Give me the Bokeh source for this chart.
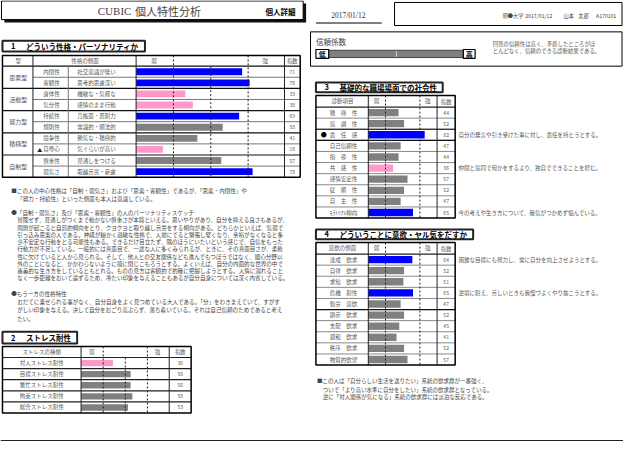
from bokeh.plotting import figure
from bokeh.models import Range1d
from bokeh.core.properties import value
from bokeh.embed import file_html
from bokeh.resources import INLINE

# ---------------- data ----------------
title_main = "個人特性分析"
title_brand = "CUBIC"
report_tag = "個人詳細"
report_date = "2017/01/12"
info_parts = ["明●大学", "2017/01/12", "山本", "太郎", "A170101"]

rel_title = "信頼係数"
rel_low, rel_high = "低", "高"
rel_text = ["回答の信頼性は高く、矛盾したところがほ", "とんどなく、信頼のできる診断結果である。"]

s1_title = ["1", "どういう性格・パーソナリティか"]
s1_header = ["型", "性格の側面", "弱", "強", "指数"]
s1_groups = ["思索型", "活動型", "努力型", "積極型", "自制型"]
s1_traits = ["内閉性", "客観性", "身体性", "気分性", "持続性", "規則性", "競争性", "自尊心", "慎重性", "弱気さ"]
s1_marks = ["", "", "", "", "", "", "", "▲", "", ""]
s1_desc = ["社交意識が低い", "思考的思慮深い", "機敏な・気軽な", "感情のまま行動", "几帳面・忍耐力",
           "常識的・順法的", "勝気な・積極的", "気ぐらいが高い", "見通しをつける", "取越苦労・憂慮"]
s1_values = [71, 76, 33, 38, 69, 58, 41, 18, 57, 78]

s1_note = ["■この人の中心性格は「自制・弱気さ」および「思索・客観性」であるが、「思索・内閉性」や",
           "「努力・持続性」といった側面も本人は意識している。"]
s1_sketch_head = "●「自制・弱気さ」及び「思索・客観性」の人のパーソナリティスケッチ"
s1_sketch = [
    "冒険せず、見通しがつくまで動かない慎重さが本質といえる。思いやりがあり、自分を抑える良さもあるが、",
    "問題が起こると自罰的傾向をとり、クヨクヨと取り越し苦労をする傾向がある。どちらかといえば、気弱で",
    "引っ込み思案の人である。神経が細かく過敏な性格で、人前にでると緊張し堅くなり、余裕がなくなると多",
    "少不安定な行動をとる可能性もある。できるだけ目立たず、隅のほうにいたいという感じで、自信をもった",
    "行動力が不足している。一般的には真面目で、一途な人に多くみられるが、ときに、その真面目さが、柔軟",
    "性に欠けていると人から見られる。そして、他人との交友関係なども進んでもつほうではなく、関心分野以",
    "外のことになると、かかわらないように殻に閉じこもろうとする。よくいえば、自分の内面的な世界の中で",
    "審美的な生き方をしているともとれる。ものの見方は客観的で的確に把握しようとする。人情に溺れること",
    "なく一歩距離をおいて論ずるため、冷たい印象を与えることもあるが自分自身については深く内省している。",
]
s1_other_head = "●もう一方の性格特性"
s1_other = [
    "おだてに乗せられる事がなく、自分自身をよく見つめている大人である。「分」をわきまえていて、すがす",
    "がしい印象を与える。決して自分をおごり高ぶらず、落ち着いている。それは自己信頼のためであると考え",
    "たい。",
]

s2_title = ["2", "ストレス耐性"]
s2_header = ["ストレスの種類", "弱", "強", "指数"]
s2_items = ["対人ストレス耐性", "目標ストレス耐性", "繁忙ストレス耐性", "拘束ストレス耐性", "総合ストレス耐性"]
s2_values = [36, 56, 56, 58, 53]

s3_title = ["3", "基礎的な職場場面での社会性"]
s3_header = ["診断項目", "弱", "強", "指数"]
s3_items = ["積　極　性", "協　調　性", "責　任　感", "自己信頼性", "指　導　性",
            "共　感　性", "感情安定性", "従　順　性", "自　主　性", "ﾓﾗﾄﾘｱﾑ傾向"]
s3_marks = ["", "", "●", "", "", "", "", "", "", ""]
s3_values = [44, 52, 82, 47, 44, 36, 57, 52, 47, 65]
s3_comments = ["", "", "自分の発言や引き受けた事に対し、責任を持とうとする。", "", "",
               "仲間と協同で何かをするより、独自でできることを好む。", "", "", "",
               "今の考えや生き方について、確信がつかめず悩んでいる。"]

s4_title = ["4", "どういうことに意欲・ヤル気をだすか"]
s4_header = ["意欲の側面", "弱", "強", "指数"]
s4_items = ["達成　欲求", "自律　欲求", "求知　欲求", "危機　耐性", "勤労　意欲",
            "顕示　欲求", "支配　欲求", "親和　欲求", "秩序　欲求", "物質的欲望"]
s4_values = [64, 52, 51, 65, 47, 52, 45, 41, 52, 57]
s4_comments = ["困難な目標にも努力し、常に自分を向上させようとする。", "", "",
               "逆境に耐え、苦しいときも我慢づよくやり抜こうとする。", "", "", "", "", "", ""]
s4_note = ["■この人は「自分らしい生活を送りたい」系統の欲求群が一番強く、",
           "ついで「より高い水準に自分をしたい」系統の欲求群となっている。",
           "逆に「対人関係が気になる」系統の欲求群には淡泊な反応である。"]

scale_ticks = [25, 50, 75]

# ---------------- layout / style ----------------
JP = "Noto Sans CJK JP"
SERIF = "Liberation Serif"
X0, X1 = 4, 638
Y0, Y1 = 3, 453
W, H = 623, 441
BLUE, PINK, GRAY = "#0000FF", "#FF99CC", "#808080"
TXT = "#555555"


def bar_color(v):
    return BLUE if v >= 60 else (PINK if v <= 40 else GRAY)


p = figure(width=W, height=H, x_range=Range1d(X0, X1), y_range=Range1d(Y1, Y0),
           output_backend="svg", toolbar_location=None, min_border=0,
           x_axis_location=None, y_axis_location=None)
p.grid.visible = False
p.outline_line_color = None
p.background_fill_color = "white"
p.border_fill_color = "white"

# chart scales: origin (page x) and px per value unit
scales = {"s1": (142.0, 1.52), "s2": (86.0, 0.9), "s34": (378.3, 0.7)}
p.extra_x_ranges = {k: Range1d((X0 - o) / s, (X1 - o) / s) for k, (o, s) in scales.items()}


def txt(xs, ys, texts, size, align="left", color=TXT, bold=False, font=JP, rng="default"):
    p.text(x=xs, y=ys, text=texts, text_font=value(font), text_font_size=value(f"{size}px"),
           text_align=align, text_baseline="middle", text_color=color,
           text_font_style="bold" if bold else "normal", x_range_name=rng)


def segs(x0, y0, x1, y1, color="#000000", width=1.0, dash="solid", rng="default"):
    p.segment(x0=x0, y0=y0, x1=x1, y1=y1, line_color=color, line_width=width,
              line_dash=dash, x_range_name=rng)


def box(l, r, t, b, lw=1.0, lc="#000000", fill="white"):
    p.quad(left=[l], right=[r], top=[t], bottom=[b], fill_color=fill, line_color=lc, line_width=lw)


def title_box(l, r, t, b, parts):
    box(l, r, t, b, lw=2, lc="#222222")
    yc = (t + b) / 2
    txt([l + 11], [yc], [parts[0]], 7.5, align="center", color="#000000", bold=True)
    txt([l + 24], [yc], [parts[1]], 7.5, color="#000000", bold=True)


# ---------- header ----------
p.quad(left=[8], right=[315], top=[6], bottom=[25.5], fill_color="#111111", line_color=None)
box(5, 312, 3.5, 22.5, lw=1)
txt([103], [13.5], [title_brand], 11, color="#444444", font=SERIF)
txt([141], [13.5], [title_main], 11, color="#444444")
txt([289], [14], [report_tag], 7.5, align="center", color="#000000", bold=True)

txt([358], [18], [report_date], 7.5, align="center", color="#333333", font=SERIF)
segs([325], [26], [392], [26], color="#555555", width=1.5)
box(405, 636.5, 5, 28.5, lw=1)
txt([515, 538, 577, 592, 610], [18] * 5, info_parts, 5.2, color="#444444")

# ---------- reliability ----------
box(319.5, 636.5, 35, 70, lw=1)
txt([325], [45], [rel_title], 7.5, color="#444444")
p.quad(left=[338], right=[475], top=[53.8], bottom=[61.2], fill_color=GRAY, line_color="#444444", line_width=1)
segs([407], [54.5], [407], [60.5], color="#d0d0d0", width=1)
box(325, 338, 53, 62, lw=1.2)
box(475, 487, 53, 62, lw=1.2)
txt([331.5, 481], [57.5, 57.5], [rel_low, rel_high], 7, align="center", color="#000000", bold=True)
txt([505, 505], [47, 55], rel_text, 5.4)

# ---------- section 1 ----------
title_box(6, 151, 44, 55, s1_title)
L1, R1, TOP1, HB1, RH = 6, 309, 59, 70, 11.33
c_type, c_name, c_chart, c_idx = 37, 73, 142, 293
rows1 = [HB1 + RH * (i + 0.5) for i in range(len(s1_values))]
BOT1 = HB1 + RH * len(s1_values)
p.hbar(y=rows1, left=0, right=s1_values, height=7,
       fill_color=[bar_color(v) for v in s1_values], line_color=None, x_range_name="s1")
inner = [HB1 + RH * i for i in range(1, 10) if i % 2 == 1]
group = [HB1 + RH * i for i in range(1, 10) if i % 2 == 0]
segs([c_type] * len(inner), inner, [R1] * len(inner), inner, color="#777777", width=1)
segs([L1] * len(group), group, [R1] * len(group), group, color="#111111", width=1.2)
segs([L1], [HB1], [R1], [HB1], color="#111111", width=1.2)
segs([c_type, c_chart, c_idx], [TOP1] * 3, [c_type, c_chart, c_idx], [BOT1] * 3, color="#222222", width=1)
segs([c_name], [HB1], [c_name], [BOT1], color="#777777", width=1)
segs([scale_ticks[0], scale_ticks[2]], [TOP1] * 2, [scale_ticks[0], scale_ticks[2]], [BOT1] * 2,
     color="#222222", width=1, dash="2 2", rng="s1")
segs([scale_ticks[1]], [HB1], [scale_ticks[1]], [BOT1], color="#222222", width=1, dash="2 2", rng="s1")
box(L1, R1, TOP1, BOT1, lw=1.5, fill=None)
hy = (TOP1 + HB1) / 2
txt([22, 90], [hy, hy], s1_header[:2], 5.5, align="center")
txt([12, 86.5], [hy, hy], s1_header[2:4], 5.5, align="center", rng="s1")
txt([301], [hy], [s1_header[4]], 5.2, align="center")
gy = [HB1 + RH * (2 * g + 1) for g in range(len(s1_groups))]
txt([22] * len(gy), gy, s1_groups, 6, align="center")
txt([56] * 10, rows1, s1_traits, 5.5, align="center")
mk = [i for i, m in enumerate(s1_marks) if m]
txt([44] * len(mk), [rows1[i] for i in mk], [s1_marks[i] for i in mk], 5, align="center", color="#222222")
txt([82] * 10, rows1, s1_desc, 5.5)
txt([301] * 10, rows1, [str(v) for v in s1_values], 5, align="center")

txt([15, 21], [197, 205.5], s1_note, 5.55, color="#444444")
txt([15], [219.5], [s1_sketch_head], 5.55, color="#444444")
txt([21] * len(s1_sketch), [227.3 + 7.4 * i for i in range(len(s1_sketch))], s1_sketch, 5.55, color="#444444")
txt([15], [302], [s1_other_head], 5.55, color="#444444")
txt([21] * len(s1_other), [310.5 + 8.5 * i for i in range(len(s1_other))], s1_other, 5.55, color="#444444")

# ---------- section 2 ----------
title_box(6, 82, 341, 353, s2_title)
L2, R2, TOP2, HB2 = 6, 198, 356, 367.3
c2_chart, c2_idx = 86, 175.7
rows2 = [HB2 + RH * (i + 0.5) for i in range(len(s2_values))]
BOT2 = HB2 + RH * len(s2_values)
p.hbar(y=rows2, left=0, right=s2_values, height=6.5,
       fill_color=[bar_color(v) for v in s2_values], line_color=None, x_range_name="s2")
hl2 = [HB2 + RH * i for i in range(0, len(s2_values))]
segs([L2] * len(hl2), hl2, [R2] * len(hl2), hl2, color="#222222", width=1.2)
segs([c2_chart, c2_idx], [TOP2] * 2, [c2_chart, c2_idx], [BOT2] * 2, color="#222222", width=1)
segs([scale_ticks[0], scale_ticks[2]], [TOP2] * 2, [scale_ticks[0], scale_ticks[2]], [BOT2] * 2,
     color="#222222", width=1, dash="2 2", rng="s2")
segs([scale_ticks[1]], [HB2], [scale_ticks[1]], [BOT2], color="#222222", width=1, dash="2 2", rng="s2")
box(L2, R2, TOP2, BOT2, lw=1.5, fill=None)
hy2 = (TOP2 + HB2) / 2
txt([46], [hy2], [s2_header[0]], 5.5, align="center")
txt([12, 86.5], [hy2, hy2], s2_header[1:3], 5.5, align="center", rng="s2")
txt([187], [hy2], [s2_header[3]], 5.2, align="center")
txt([46] * len(s2_items), rows2, s2_items, 5.5, align="center")
txt([187] * len(s2_values), rows2, [str(v) for v in s2_values], 5, align="center")


# ---------- sections 3 & 4 ----------
def social_table(top, title_r, parts, header, items, marks, vals, comments, black_lines):
    title_box(325, title_r, top - 13.3, top - 3.3, parts)
    L, R, HB = 325, 466.7, top + 11.7
    cc, ci = 378.3, 448.3
    rows = [HB + RH * (i + 0.5) for i in range(len(vals))]
    BOT = HB + RH * len(vals)
    p.hbar(y=rows, left=0, right=vals, height=7.5,
           fill_color=[bar_color(v) for v in vals], line_color=None, x_range_name="s34")
    hl = [HB + RH * i for i in range(1, len(vals))]
    segs([L] * len(hl), hl, [R] * len(hl), hl, color="#888888", width=1)
    bl = [HB + RH * i for i in black_lines]
    segs([L] * len(bl), bl, [R] * len(bl), bl, color="#111111", width=1.2)
    segs([L], [HB], [R], [HB], color="#222222", width=1.2)
    segs([cc, ci], [top] * 2, [cc, ci], [BOT] * 2, color="#222222", width=1)
    segs([scale_ticks[0], scale_ticks[2]], [top] * 2, [scale_ticks[0], scale_ticks[2]], [BOT] * 2,
         color="#222222", width=1, dash="2 2", rng="s34")
    box(L, R, top, BOT, lw=1.5, fill=None)
    hy = (top + HB) / 2
    txt([352], [hy], [header[0]], 5.5, align="center")
    txt([12, 86.5], [hy, hy], header[1:3], 5.5, align="center", rng="s34")
    txt([457.5], [hy], [header[3]], 5.2, align="center")
    txt([353] * len(items), rows, items, 5.5, align="center")
    mi = [i for i, m in enumerate(marks) if m]
    txt([333] * len(mi), [rows[i] for i in mi], [marks[i] for i in mi], 6, align="center", color="#000000")
    txt([457.5] * len(vals), rows, [str(v) for v in vals], 5, align="center")
    ci_ = [i for i, c in enumerate(comments) if c]
    txt([470] * len(ci_), [rows[i] for i in ci_], [comments[i] for i in ci_], 5.5)


social_table(100, 454, s3_title, s3_header, s3_items, s3_marks, s3_values, s3_comments, [2, 3])
social_table(250, 485, s4_title, s4_header, s4_items, [""] * 10, s4_values, s4_comments, [5])

txt([326, 332, 332], [391.7, 400, 408], s4_note, 5.5, color="#444444")

# bottom scan edge
p.quad(left=[X0], right=[X1], top=[451.5], bottom=[460], fill_color="#222222", line_color=None)

open("out.html", "w").write(file_html(p, INLINE))
